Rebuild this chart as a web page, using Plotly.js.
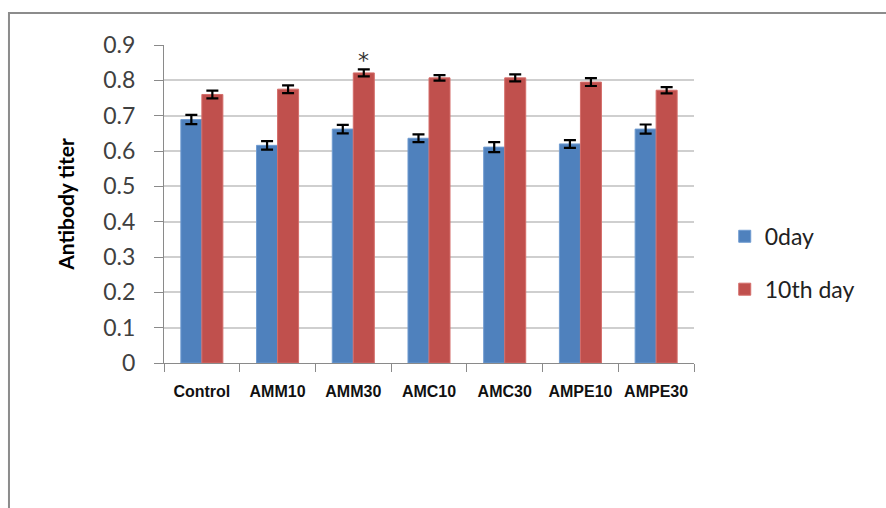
<!DOCTYPE html>
<html>
<head>
<meta charset="utf-8">
<script src="https://cdn.plot.ly/plotly-3.0.1.min.js"></script>
<style>html,body{margin:0;padding:0;background:#fff;}#chart{width:886px;height:508px;}</style>
</head>
<body>
<div id="chart"></div>
<script>
const categories = ["Control", "AMM10", "AMM30", "AMC10", "AMC30", "AMPE10", "AMPE30"];
const seriesNames = ["0day", "10th day"];
const day0Values = [0.689, 0.616, 0.662, 0.636, 0.611, 0.620, 0.662];
const day0Errors = [0.013, 0.012, 0.012, 0.011, 0.014, 0.011, 0.013];
const day10Values = [0.760, 0.775, 0.821, 0.807, 0.807, 0.795, 0.772];
const day10Errors = [0.011, 0.011, 0.010, 0.008, 0.010, 0.011, 0.009];
const yTickValues = [0, 0.1, 0.2, 0.3, 0.4, 0.5, 0.6, 0.7, 0.8, 0.9];
const significance = {category: "AMM30", label: "*", y: 0.857};

const errStyle = {type: "data", visible: true, color: "#000000", thickness: 2.2, width: 6};

const traces = [
  {
    type: "bar", name: seriesNames[0], x: categories, y: day0Values,
    error_y: Object.assign({array: day0Errors}, errStyle),
    marker: {color: "#4F81BD", line: {color: "#6f9bd0", width: 1}},
    legendgroup: "a", hoverinfo: "x+y"
  },
  {
    type: "bar", name: seriesNames[1], x: categories, y: day10Values,
    error_y: Object.assign({array: day10Errors}, errStyle),
    marker: {color: "#C0504D", line: {color: "#d46d6a", width: 1}},
    legendgroup: "b", hoverinfo: "x+y"
  }
];

const layout = {
  width: 886, height: 508,
  margin: {l: 164, r: 192, t: 45, b: 145, pad: 0},
  paper_bgcolor: "#ffffff", plot_bgcolor: "#ffffff",
  barmode: "group", bargap: 0.445, bargroupgap: 0,
  showlegend: true,
  legend: {
    x: 1.058, xanchor: "left", y: 0.315, yanchor: "middle",
    font: {family: "Lato, 'Open Sans', sans-serif", size: 23, color: "#222222"},
    tracegroupgap: 20, bgcolor: "rgba(0,0,0,0)", itemwidth: 30
  },
  xaxis: {
    type: "category",
    showline: true, linecolor: "#8a8a8a", linewidth: 1,
    ticks: "outside", tickson: "boundaries", ticklen: 8, tickcolor: "#8a8a8a", tickwidth: 1,
    showgrid: false, zeroline: false,
    tickfont: {family: "'Liberation Sans', Arial, sans-serif", size: 16, color: "#111111", weight: "bold"},
    ticklabelstandoff: 14
  },
  yaxis: {
    range: [0, 0.9], tickvals: yTickValues,
    showline: true, linecolor: "#8a8a8a", linewidth: 1,
    ticks: "outside", ticklen: 9, tickcolor: "#8a8a8a", tickwidth: 1,
    showgrid: true, gridcolor: "#cfcfcf", gridwidth: 2,
    zeroline: false,
    tickfont: {family: "Lato, 'Open Sans', sans-serif", size: 23, color: "#404040"},
    ticklabelstandoff: 14,
    title: {text: "Antibody titer", font: {family: "Lato, 'Open Sans', sans-serif", size: 21, color: "#000000", weight: "bold"}, standoff: 22}
  },
  annotations: [
    {x: significance.category, y: significance.y, xref: "x", yref: "y", text: significance.label,
     showarrow: false, xshift: 10.5, font: {family: "'DejaVu Sans', sans-serif", size: 22, color: "#333333"}}
  ],
  shapes: [
    {type: "rect", xref: "paper", yref: "paper", x0: -0.2925, x1: 1.40, y0: -0.52, y1: 1.1006,
     line: {color: "#8c8c8c", width: 2}, fillcolor: "rgba(0,0,0,0)", layer: "below"}
  ]
};

Plotly.newPlot("chart", traces, layout, {displayModeBar: false, staticPlot: true});
</script>
</body>
</html>
